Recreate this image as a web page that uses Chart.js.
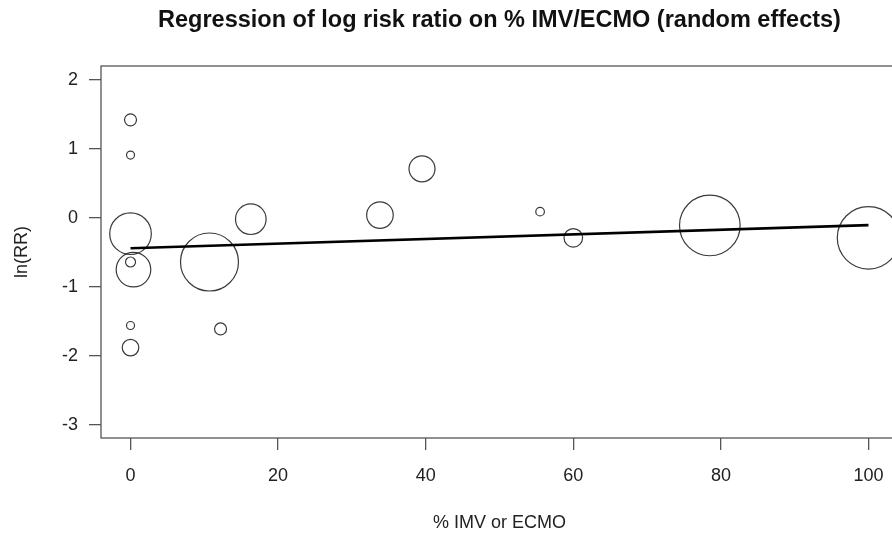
<!DOCTYPE html>
<html>
<head>
<meta charset="utf-8">
<script src="https://cdn.jsdelivr.net/npm/chart.js@4.4.1/dist/chart.umd.min.js"></script>
<style>
  html, body { margin: 0; padding: 0; background: #fff; overflow: hidden; }
  canvas { display: block; }
</style>
</head>
<body>
<canvas id="metaReg" width="900" height="538"></canvas>
<script>
// Studies: % IMV/ECMO, ln(RR), and weight (shown as circle radius)
const pctImv = [0, 0, 0, 0.4, 0, 0, 0, 10.7, 12.2, 16.3, 33.8, 39.5, 55.5, 60.0, 78.5, 100];
const lnRR = [1.42, 0.91, -0.23, -0.75, -0.64, -1.56, -1.88, -0.64, -1.61, -0.02, 0.04, 0.71, 0.09, -0.29, -0.11, -0.29];
const weights = [6, 4, 20.8, 17.3, 5, 4, 8.3, 29, 6, 15.3, 13.3, 13, 4.3, 9.3, 30.3, 31.2];

// Fitted meta-regression line
const fitX = [0, 100];
const fitY = [-0.44, -0.106];

const xTicks = [0, 20, 40, 60, 80, 100];
const yTicks = [-3, -2, -1, 0, 1, 2];

const TITLE = 'Regression of log risk ratio on % IMV/ECMO (random effects)';
const FONT = '"Liberation Sans", Arial, Helvetica, sans-serif';

// Title centred over the plot region plus the full box round it, as R draws it
const boxAndTitle = {
    id: 'boxAndTitle',
    afterDatasetsDraw(chart) {
        const { ctx, chartArea: a } = chart;
        ctx.save();
        ctx.strokeStyle = '#555';
        ctx.lineWidth = 1.3;
        ctx.strokeRect(a.left, a.top, a.right - a.left, a.bottom - a.top);
        ctx.restore();
    },
    afterDraw(chart) {
        const { ctx, chartArea: a } = chart;
        ctx.save();
        ctx.fillStyle = '#111';
        ctx.font = 'bold 23.5px ' + FONT;
        ctx.textAlign = 'center';
        ctx.textBaseline = 'alphabetic';
        ctx.fillText(TITLE, (a.left + a.right) / 2, 27);
        ctx.restore();
    }
};

const ctx = document.getElementById('metaReg').getContext('2d');
new Chart(ctx, {
    data: {
        datasets: [
            {
                type: 'bubble',
                data: pctImv.map((x, i) => ({ x: x, y: lnRR[i], r: weights[i] })),
                backgroundColor: 'rgba(0,0,0,0)',
                borderColor: '#3a3a3a',
                borderWidth: 1.2,
                hoverRadius: 0,
                clip: false,
                order: 2
            },
            {
                type: 'line',
                data: fitX.map((x, i) => ({ x: x, y: fitY[i] })),
                borderColor: '#000',
                borderWidth: 2.6,
                pointRadius: 0,
                fill: false,
                order: 1
            }
        ]
    },
    options: {
        responsive: false,
        animation: false,
        events: [],
        layout: { autoPadding: false, padding: { left: 0, right: 2, top: 66, bottom: 0 } },
        plugins: {
            legend: { display: false },
            tooltip: { enabled: false },
            title: { display: false }
        },
        scales: {
            x: {
                type: 'linear',
                min: -4,
                max: 104,
                afterBuildTicks: s => { s.ticks = xTicks.map(v => ({ value: v })); },
                afterFit: s => { s.height = 100; s.paddingLeft = 0; s.paddingRight = 0; },
                grid: { drawOnChartArea: false, tickLength: 12, tickColor: '#555', lineWidth: 1.3 },
                border: { display: false },
                ticks: {
                    color: '#222',
                    font: { family: FONT, size: 18 },
                    padding: 15,
                    maxRotation: 0
                },
                title: {
                    display: true,
                    text: '% IMV or ECMO',
                    color: '#222',
                    font: { family: FONT, size: 18 },
                    padding: { top: 0, bottom: 4 }
                }
            },
            y: {
                type: 'linear',
                min: -3.19,
                max: 2.2,
                afterBuildTicks: s => { s.ticks = yTicks.map(v => ({ value: v })); },
                afterFit: s => { s.width = 101; s.paddingTop = 0; s.paddingBottom = 0; },
                grid: { drawOnChartArea: false, tickLength: 12, tickColor: '#555', lineWidth: 1.3 },
                border: { display: false },
                ticks: {
                    color: '#222',
                    font: { family: FONT, size: 18 },
                    padding: 11
                },
                title: {
                    display: true,
                    text: 'ln(RR)',
                    color: '#222',
                    font: { family: FONT, size: 18 },
                    padding: { top: 11, bottom: 0 }
                }
            }
        }
    },
    plugins: [boxAndTitle]
});
</script>
</body>
</html>
